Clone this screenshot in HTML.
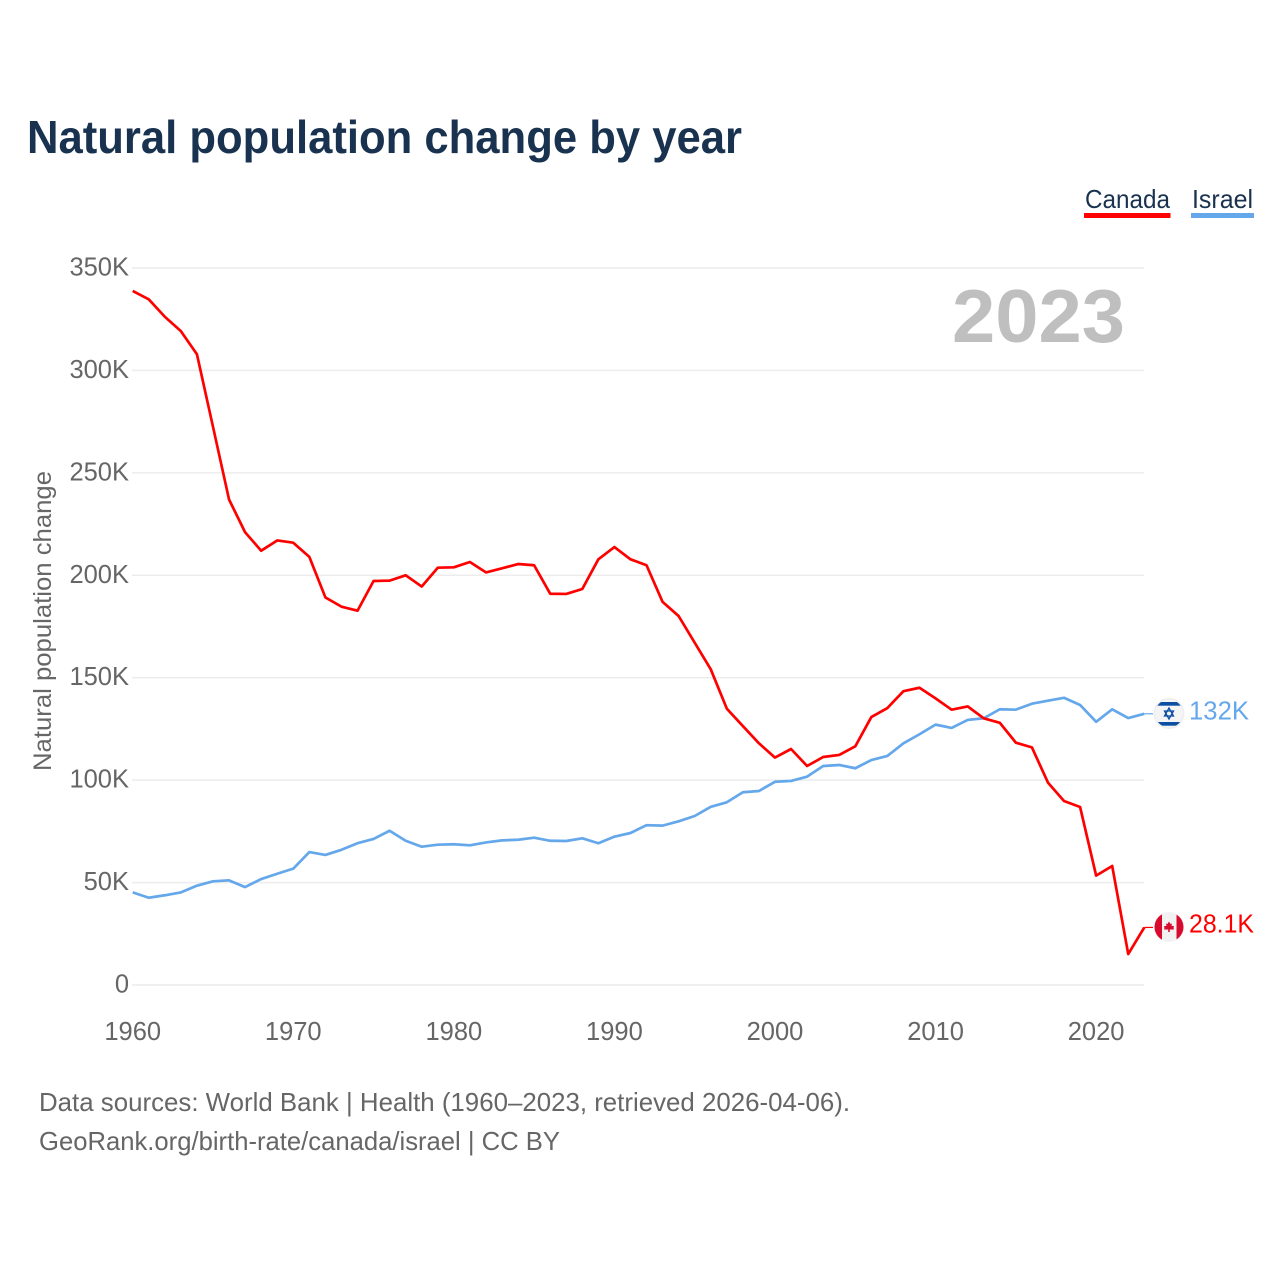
<!DOCTYPE html>
<html lang="en">
<head>
<meta charset="utf-8">
<title>Natural population change by year</title>
<style>
html,body{margin:0;padding:0;background:#fff;width:1280px;height:1280px;overflow:hidden}
svg{display:block}
text{font-family:"Liberation Sans",sans-serif}
</style>
</head>
<body>
<svg id="chart" xmlns="http://www.w3.org/2000/svg" width="1280" height="1280" viewBox="0 0 1280 1280">
  <defs>
    <clipPath id="flag-clip-israel"><circle cx="1169" cy="713.500" r="14"/></clipPath>
    <clipPath id="flag-clip-canada"><circle cx="1169" cy="927" r="14.500"/></clipPath>
  </defs>
  <rect x="0" y="0" width="1280" height="1280" fill="#ffffff"/>
  <text x="27" y="153" font-size="46" font-weight="700" fill="#18324f" textLength="715" lengthAdjust="spacingAndGlyphs">Natural population change by year</text>

  <g>
    <g>
      <text x="1085" y="208" font-size="26" fill="#18324f" textLength="85" lengthAdjust="spacingAndGlyphs">Canada</text>
      <rect x="1084" y="213" width="86.500" height="5" fill="#ff0000"/>
    </g>
    <g>
      <text x="1192" y="208" font-size="26" fill="#18324f" textLength="61" lengthAdjust="spacingAndGlyphs">Israel</text>
      <rect x="1191" y="213" width="63" height="5" fill="#64a7ea"/>
    </g>
  </g>

  <text transform="translate(51 771) rotate(-90)" font-size="25" fill="#666666" textLength="300" lengthAdjust="spacingAndGlyphs">Natural population change</text>
  <g id="grid"></g>
  <g id="y-ticks"></g>
  <g id="x-ticks"></g>
  <text x="952" y="342" font-size="75" font-weight="700" fill="#bfbfbf" textLength="173" lengthAdjust="spacingAndGlyphs">2023</text>
  <g id="series"></g>

  <g>
    <circle cx="1169" cy="713.500" r="15.500" fill="#eeeeee"/>
    <g clip-path="url(#flag-clip-israel)">
      <rect x="1154" y="698" width="30" height="31" fill="#f4f4f4"/>
      <rect x="1154" y="702" width="30" height="3.700" fill="#0b4ea2"/>
      <rect x="1154" y="722" width="30" height="3.700" fill="#0b4ea2"/>
      <polygon points="1169,708 1173.500,716 1164.500,716" fill="none" stroke="#0b4ea2" stroke-width="1.300"/>
      <polygon points="1169,719 1173.500,711 1164.500,711" fill="none" stroke="#0b4ea2" stroke-width="1.300"/>
    </g>
  </g>
  <g>
    <circle cx="1169" cy="927" r="15" fill="#f2f2f2"/>
    <g clip-path="url(#flag-clip-canada)">
      <rect x="1154" y="912" width="8" height="30" fill="#d80b2e"/>
      <rect x="1176.500" y="912" width="8" height="30" fill="#d80b2e"/>
      <polygon points="1169,921.500 1170.500,924 1172,923.500 1171.500,926 1174,926 1173.500,928 1174,929.500 1169.800,929.500 1169.800,932 1168.200,932 1168.200,929.500 1164,929.500 1164.500,928 1164,926 1166.500,926 1166,923.500 1167.500,924" fill="#d80b2e"/>
    </g>
  </g>
  <text id="value-israel" x="1189" y="719.500" font-size="25.500" fill="#64a7ea" textLength="60" lengthAdjust="spacingAndGlyphs">132K</text>
  <text id="value-canada" x="1189" y="932.500" font-size="25.500" fill="#ff0000" textLength="65" lengthAdjust="spacingAndGlyphs">28.1K</text>

  <g>
    <text x="39" y="1111" font-size="26" fill="#666666" textLength="811" lengthAdjust="spacingAndGlyphs">Data sources: World Bank | Health (1960–2023, retrieved 2026-04-06).</text>
    <text x="39" y="1150" font-size="26" fill="#666666" textLength="521" lengthAdjust="spacingAndGlyphs">GeoRank.org/birth-rate/canada/israel | CC BY</text>
  </g>
</svg>
<script>
var firstYear = 1960;
var lastYear = 2023;
var xTickYears = [1960, 1970, 1980, 1990, 2000, 2010, 2020];
var yTickValues = [0, 50, 100, 150, 200, 250, 300, 350];
var yTickLabels = ["0", "50K", "100K", "150K", "200K", "250K", "300K", "350K"];
var canadaValues = [
  338.8, 334.7, 326.2, 319.2, 307.9, 272.5, 237.0, 221.0, 212.0, 217.0,
  215.9, 209.0, 189.2, 184.7, 182.7, 197.2, 197.4, 200.0, 194.5, 203.7,
  203.9, 206.5, 201.4, 203.4, 205.5, 204.9, 191.0, 190.9, 193.3, 207.8,
  213.8, 207.8, 204.9, 187.0, 180.1, 167.1, 154.1, 134.9, 126.4, 118.0,
  111.0, 115.2, 106.9, 111.3, 112.3, 116.5, 130.8, 135.2, 143.4, 145.1,
  139.9, 134.4, 136.0, 130.2, 128.0, 118.3, 116.0, 98.8, 89.8, 86.9,
  53.4, 58.1, 15.1, 28.1
];
var israelValues = [
  45.2, 42.6, 43.8, 45.2, 48.5, 50.6, 51.1, 47.8, 51.7, 54.3,
  56.8, 64.9, 63.5, 66.0, 69.2, 71.3, 75.3, 70.4, 67.5, 68.5,
  68.7, 68.2, 69.6, 70.6, 70.9, 71.9, 70.4, 70.3, 71.6, 69.2,
  72.4, 74.2, 78.0, 77.8, 79.9, 82.5, 87.0, 89.2, 94.1, 94.7,
  99.2, 99.6, 101.7, 106.9, 107.4, 105.8, 109.8, 111.8, 118.0, 122.4,
  127.1, 125.5, 129.4, 130.2, 134.6, 134.4, 137.3, 138.8, 140.2, 136.7,
  128.5, 134.6, 130.3, 132.4
];

var SVG_NS = "http://www.w3.org/2000/svg";
function xScale(year) {
  return 132.7 + (year - firstYear) * (1144.3 - 132.7) / (lastYear - firstYear);
}
function yScale(value) {
  return 985 - value * (985 - 268) / 350;
}
function make(tag, attrs, parent) {
  var el = document.createElementNS(SVG_NS, tag);
  for (var k in attrs) { el.setAttribute(k, attrs[k]); }
  parent.appendChild(el);
  return el;
}

var gridGroup = document.getElementById("grid");
var yGroup = document.getElementById("y-ticks");
yTickValues.forEach(function (v, i) {
  var line = make("line", {x1: 132, x2: 1144, y1: yScale(v), y2: yScale(v), stroke: "#ececec", "stroke-width": 1.5}, gridGroup);
  
  
  var label = make("text", {x: 129, y: yScale(v) + 7.5, "text-anchor": "end", "font-size": 25.5, fill: "#666666"}, yGroup);
  
  
  label.textContent = yTickLabels[i];
});

var xGroup = document.getElementById("x-ticks");
xTickYears.forEach(function (year) {
  var label = make("text", {x: xScale(year), y: 1040, "text-anchor": "middle", "font-size": 25.5, fill: "#666666"}, xGroup);
  
  
  label.textContent = String(year);
});

function pathFor(values) {
  return values.map(function (v, i) {
    return (i ? "L" : "M") + xScale(firstYear + i).toFixed(2) + " " + yScale(v).toFixed(2);
  }).join(" ");
}
var seriesGroup = document.getElementById("series");

var israelLine = make("path", {d: pathFor(israelValues), fill: "none", stroke: "#64a7ea", "stroke-width": 2.7, "stroke-linejoin": "round"}, seriesGroup);



var canadaLine = make("path", {d: pathFor(canadaValues), fill: "none", stroke: "#ff0000", "stroke-width": 2.7, "stroke-linejoin": "round"}, seriesGroup);



var israelEnd = yScale(israelValues[israelValues.length - 1]);
var canadaEnd = yScale(canadaValues[canadaValues.length - 1]);
var israelConnector = make("line", {x1: xScale(lastYear), x2: 1153, y1: israelEnd, y2: israelEnd, stroke: "#64a7ea", "stroke-width": 1.2}, seriesGroup);


var canadaConnector = make("line", {x1: xScale(lastYear), x2: 1153, y1: canadaEnd, y2: canadaEnd, stroke: "#ff0000", "stroke-width": 1.2}, seriesGroup);


</script>
</body>
</html>
